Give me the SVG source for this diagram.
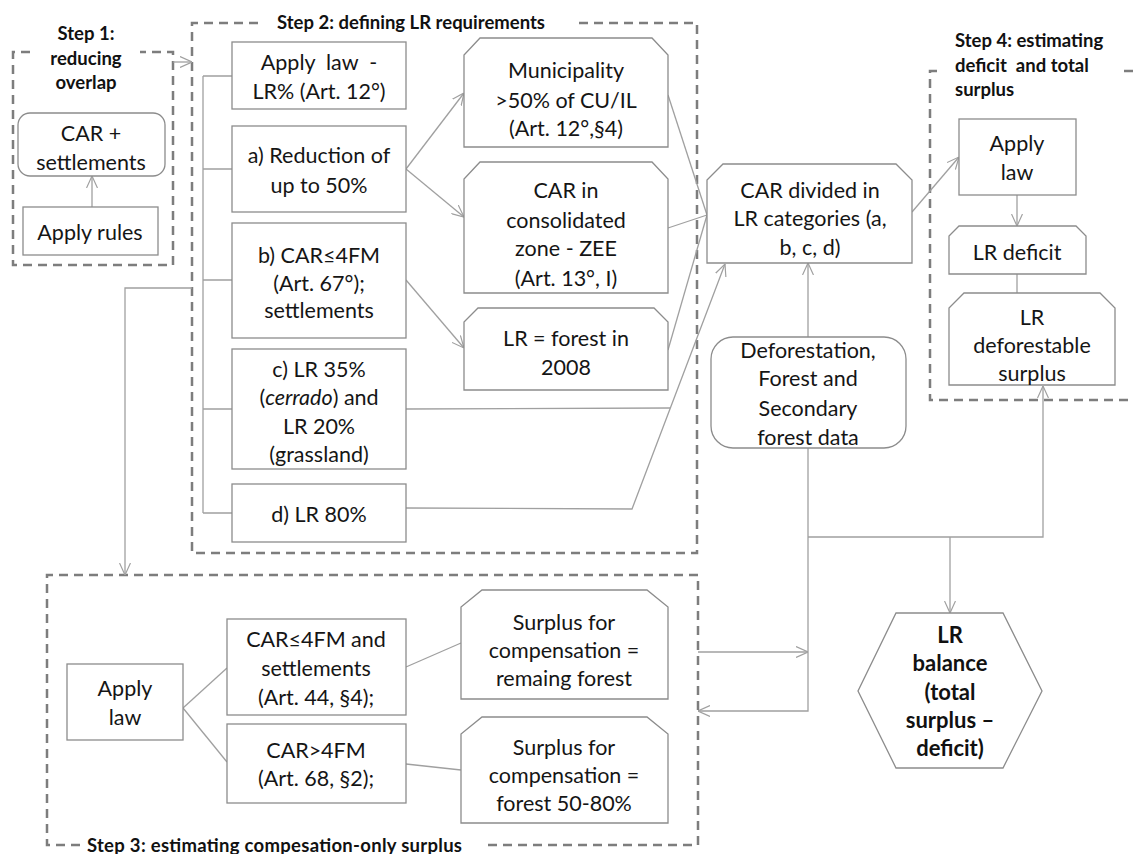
<svg xmlns="http://www.w3.org/2000/svg" width="1134" height="854" viewBox="0 0 1134 854">
<style>
.box{fill:#fff;stroke:#8c8c8c;stroke-width:1.3}
.con{fill:none;stroke:#a0a0a0;stroke-width:1.3}
.dash{fill:none;stroke:#7d7d7d;stroke-width:2.5;stroke-dasharray:9 6}
.t{font-family:Lato,'Liberation Sans',sans-serif;font-size:21.5px;fill:#151515;text-anchor:middle}
.h{font-family:Lato,'Liberation Sans',sans-serif;font-size:18.5px;font-weight:bold;fill:#111}
.hb{font-family:Lato,'Liberation Sans',sans-serif;font-size:22px;font-weight:bold;fill:#111;text-anchor:middle}
</style>
<defs>
<marker id="arr" viewBox="0 0 12 12" refX="12" refY="6" markerWidth="12" markerHeight="12" markerUnits="userSpaceOnUse" orient="auto">
<path d="M0,0.5 L12,6 L0,11.5" fill="none" stroke="#a0a0a0" stroke-width="1.2"/>
</marker>
</defs>
<rect width="1134" height="854" fill="#fff"/>

<g id="step-frames">
<path class="dash" d="M30,52 L13,52 L13,265 L173,265 L173,52 L140,52"/>
<text class="h" x="86" y="39.5" text-anchor="middle">Step 1:</text>
<text class="h" x="86" y="64.5" text-anchor="middle">reducing</text>
<text class="h" x="86" y="88.5" text-anchor="middle">overlap</text>

<path class="dash" d="M258,23 L192,23 L192,553 L697,553 L697,23 L573,23"/>
<text class="h" x="411" y="28.5" text-anchor="middle">Step 2: defining LR requirements</text>

<path class="dash" d="M80,845 L47,845 L47,575 L698,575 L698,845 L485,845"/>
<text class="h" x="87" y="851.5" textLength="375" lengthAdjust="spacing">Step 3: estimating compesation-only surplus</text>

<path class="dash" d="M937,71 L930,71 L930,400 L1134,400"/>
<path class="dash" d="M1124,71 L1134,71"/>
<text class="h" x="955" y="46.5">Step 4: estimating</text>
<text class="h" x="955" y="71.5" xml:space="preserve">deficit  and total</text>
<text class="h" x="955" y="95.5">surplus</text>
</g>

<g id="connectors">
<line class="con" x1="92" y1="207" x2="92" y2="176" marker-end="url(#arr)"/>
<line class="con" x1="173" y1="62" x2="192" y2="62" marker-end="url(#arr)"/>
<path class="con" d="M192,288 L125,288 L125,575" marker-end="url(#arr)"/>
<path class="con" d="M203,76 L203,513 M203,76 L232,76 M203,169 L232,169 M203,280 L232,280 M203,409 L232,409 M203,513 L232,513"/>
<line class="con" x1="406" y1="169" x2="464" y2="93" marker-end="url(#arr)"/>
<line class="con" x1="406" y1="169" x2="464" y2="217" marker-end="url(#arr)"/>
<line class="con" x1="406" y1="280" x2="464" y2="348" marker-end="url(#arr)"/>
<line class="con" x1="668" y1="95" x2="707" y2="215"/>
<line class="con" x1="668" y1="228" x2="707" y2="215"/>
<line class="con" x1="668" y1="350" x2="707" y2="215"/>
<line class="con" x1="406" y1="409" x2="670" y2="408"/>
<path class="con" d="M406,508 L632,509 L725,264" marker-end="url(#arr)"/>
<line class="con" x1="808" y1="337" x2="808" y2="263" marker-end="url(#arr)"/>
<line class="con" x1="912" y1="212" x2="959" y2="157" marker-end="url(#arr)"/>
<line class="con" x1="1017" y1="195" x2="1017" y2="226" marker-end="url(#arr)"/>
<line class="con" x1="1017" y1="274" x2="1017" y2="293"/>
<path class="con" d="M808,448 L808,711 L698,711" marker-end="url(#arr)"/>
<line class="con" x1="698" y1="652" x2="808" y2="652" marker-end="url(#arr)"/>
<path class="con" d="M808,537 L1043,537 L1043,386" marker-end="url(#arr)"/>
<line class="con" x1="950" y1="537" x2="950" y2="613" marker-end="url(#arr)"/>
<line class="con" x1="183" y1="708" x2="227" y2="668"/>
<line class="con" x1="183" y1="708" x2="227" y2="762"/>
<line class="con" x1="406" y1="667" x2="461" y2="643"/>
<line class="con" x1="406" y1="764" x2="461" y2="770"/>
</g>

<g id="car-settlements">
<rect class="box" x="18" y="113" width="147" height="63" rx="12"/>
<text class="t" x="91" y="140.5">CAR +</text>
<text class="t" x="91" y="169.5">settlements</text>
</g>
<g id="apply-rules">
<rect class="box" x="23" y="207" width="135" height="48"/>
<text class="t" x="90" y="239.5">Apply rules</text>
</g>

<g id="apply-law-lr">
<rect class="box" x="232" y="42" width="174" height="67"/>
<text class="t" x="319" y="69.5" xml:space="preserve">Apply  law  -</text>
<text class="t" x="319" y="98.5">LR% (Art. 12°)</text>
</g>
<g id="a-reduction">
<rect class="box" x="232" y="126" width="174" height="86"/>
<text class="t" x="319" y="162.5">a) Reduction of</text>
<text class="t" x="319" y="192.5">up to 50%</text>
</g>
<g id="b-car4fm">
<rect class="box" x="232" y="223" width="174" height="115"/>
<text class="t" x="319" y="262.5">b) CAR≤4FM</text>
<text class="t" x="319" y="290.5">(Art. 67°);</text>
<text class="t" x="319" y="317.5">settlements</text>
</g>
<g id="c-lr35">
<rect class="box" x="232" y="349" width="174" height="120"/>
<text class="t" x="319" y="376.5">c) LR 35%</text>
<text class="t" x="319" y="404.5">(<tspan font-style="italic">cerrado</tspan>) and</text>
<text class="t" x="319" y="433.5">LR 20%</text>
<text class="t" x="319" y="461.5">(grassland)</text>
</g>
<g id="d-lr80">
<rect class="box" x="232" y="484" width="174" height="58"/>
<text class="t" x="319" y="521.5">d) LR 80%</text>
</g>

<g id="municipality">
<path class="box" d="M464,147 L464,55 L480,38 L652,38 L668,55 L668,147 Z"/>
<text class="t" x="566" y="77.5">Municipality</text>
<text class="t" x="566" y="107.5">&gt;50% of CU/IL</text>
<text class="t" x="566" y="135.5">(Art. 12°,§4)</text>
</g>
<g id="car-consolidated">
<path class="box" d="M464,293 L464,179 L480,162 L652,162 L668,179 L668,293 Z"/>
<text class="t" x="566" y="197.5">CAR in</text>
<text class="t" x="566" y="227.5">consolidated</text>
<text class="t" x="566" y="255.5">zone - ZEE</text>
<text class="t" x="566" y="285.5">(Art. 13°, I)</text>
</g>
<g id="lr-forest-2008">
<path class="box" d="M464,390 L464,322 L478,308 L654,308 L668,322 L668,390 Z"/>
<text class="t" x="566" y="345.5">LR = forest in</text>
<text class="t" x="566" y="374.5">2008</text>
</g>

<g id="car-divided">
<path class="box" d="M707,263 L707,180 L723,164 L896,164 L912,180 L912,263 Z"/>
<text class="t" x="810" y="197.5">CAR divided in</text>
<text class="t" x="810" y="225.5">LR categories (a,</text>
<text class="t" x="810" y="254.5">b, c, d)</text>
</g>
<g id="deforestation-data">
<rect class="box" x="711" y="337" width="195" height="111" rx="22"/>
<text class="t" x="808" y="357.5">Deforestation,</text>
<text class="t" x="808" y="385.5">Forest and</text>
<text class="t" x="808" y="415.5">Secondary</text>
<text class="t" x="808" y="444.5">forest data</text>
</g>

<g id="apply-law-step4">
<rect class="box" x="959" y="119" width="117" height="76"/>
<text class="t" x="1017" y="150.5">Apply</text>
<text class="t" x="1017" y="179.5">law</text>
</g>
<g id="lr-deficit">
<path class="box" d="M949,274 L949,236 L959,226 L1076,226 L1086,236 L1086,274 Z"/>
<text class="t" x="1017" y="259.5">LR deficit</text>
</g>
<g id="lr-deforestable">
<path class="box" d="M949,385 L949,308 L964,293 L1100,293 L1115,308 L1115,385 Z"/>
<text class="t" x="1032" y="324.5">LR</text>
<text class="t" x="1032" y="352.5">deforestable</text>
<text class="t" x="1032" y="380.5">surplus</text>
</g>

<g id="lr-balance">
<polygon class="box" points="896,613 1003,613 1042,691 1003,768 896,768 858,691" stroke-width="1.8"/>
<text class="hb" x="950" y="642.5">LR</text>
<text class="hb" x="950" y="670.5">balance</text>
<text class="hb" x="950" y="699.5">(total</text>
<text class="hb" x="950" y="727.5">surplus –</text>
<text class="hb" x="950" y="755.5">deficit)</text>
</g>

<g id="apply-law-step3">
<rect class="box" x="67" y="664" width="116" height="76"/>
<text class="t" x="125" y="695.5">Apply</text>
<text class="t" x="125" y="724.5">law</text>
</g>
<g id="car-le-4fm">
<rect class="box" x="227" y="619" width="179" height="96"/>
<text class="t" x="316" y="646.5">CAR≤4FM and</text>
<text class="t" x="316" y="675.5">settlements</text>
<text class="t" x="316" y="704.5">(Art. 44, §4);</text>
</g>
<g id="car-gt-4fm">
<rect class="box" x="227" y="724" width="179" height="79"/>
<text class="t" x="316" y="758">CAR&gt;4FM</text>
<text class="t" x="316" y="786">(Art. 68, §2);</text>
</g>
<g id="surplus-remaining">
<path class="box" d="M461,699 L461,607 L482,590 L647,590 L668,607 L668,699 Z"/>
<text class="t" x="564" y="629.5">Surplus for</text>
<text class="t" x="564" y="657.5">compensation =</text>
<text class="t" x="564" y="685.5">remaing forest</text>
</g>
<g id="surplus-50-80">
<path class="box" d="M461,823 L461,734 L482,717 L647,717 L668,734 L668,823 Z"/>
<text class="t" x="564" y="754.5">Surplus for</text>
<text class="t" x="564" y="782.5">compensation =</text>
<text class="t" x="564" y="810.5">forest 50-80%</text>
</g>
</svg>
